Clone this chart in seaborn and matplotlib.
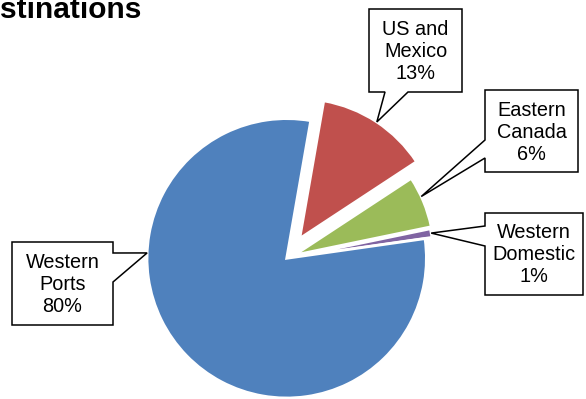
import numpy as np
import matplotlib
matplotlib.use("Agg")
import matplotlib.pyplot as plt
from matplotlib.patches import Polygon
import seaborn as sns

# ---- data ----
categories = ["US and\nMexico", "Eastern\nCanada", "Western\nDomestic", "Western\nPorts"]
shares = [13, 6, 1, 80]
title_text = "stinations"

# ---- style ----
sns.set_theme(style="white")
plt.rcParams["font.family"] = ["Liberation Sans", "DejaVu Sans"]
colors = sns.color_palette(["#C0504D", "#9BBB59", "#8064A2", "#4F81BD"])

W, H = 586, 399
fig = plt.figure(figsize=(W / 100, H / 100), dpi=100)
ax = fig.add_axes([0, 0, 1, 1])

def P(x, y):
    """layout helper: pixel position (top-left origin) -> data coords"""
    return (x, H - y)

cx, cy = P(286.7, 258.3)
R = 139.7
explode_frac = [0.17, 0.06, 0.05, 0.0]
explode = [e * R for e in explode_frac]

wedges, _ = ax.pie(shares, colors=colors, startangle=80.1, counterclock=False,
                   explode=explode, radius=R, center=(cx, cy), frame=True,
                   wedgeprops=dict(edgecolor="white", linewidth=2.0))
ax.set_xlim(0, W)
ax.set_ylim(0, H)
ax.set_aspect("equal")
ax.set_axis_off()

def tip(w, ang=None):
    if ang is None:
        ang = (w.theta1 + w.theta2) / 2
    a = np.deg2rad(ang)
    return (w.center[0] + w.r * np.cos(a), w.center[1] + w.r * np.sin(a))

tips = [tip(wedges[0], 56.5), tip(wedges[1], 24.8), tip(wedges[2]), tip(wedges[3], 177.8)]

# callout boxes: (left, top, right, bottom), pointer side, pointer base
boxes = [
    ((369, 9, 462, 92), "bottom", (385, 408)),
    ((485, 90, 578, 172), "left", (140, 158)),
    ((485, 213, 583, 295), "left", (226, 246)),
    ((12, 242, 113, 325), "right", (253, 282)),
]

for (box, side, base), t, lab, val in zip(boxes, tips, categories, shares):
    L, T, Rr, B = box
    if side == "bottom":
        pts = [P(L, T), P(Rr, T), P(Rr, B), P(base[1], B), t, P(base[0], B), P(L, B)]
    elif side == "left":
        pts = [P(L, T), P(Rr, T), P(Rr, B), P(L, B), P(L, base[1]), t, P(L, base[0])]
    else:
        pts = [P(L, T), P(Rr, T), P(Rr, base[0]), t, P(Rr, base[1]), P(Rr, B), P(L, B)]
    ax.add_patch(Polygon(pts, closed=True, facecolor="white", edgecolor="black",
                         linewidth=1.1, zorder=5, joinstyle="miter"))
    ax.text(*P((L + Rr) / 2, (T + B) / 2 + 1), f"{lab}\n{val}%", ha="center", va="center",
            fontsize=14.3, linespacing=1.2, color="black", zorder=6)

ax.text(*P(0, 18), title_text, ha="left", va="baseline", fontsize=21.5,
        fontweight="bold", color="black")

fig.savefig("out.png", dpi=100)
